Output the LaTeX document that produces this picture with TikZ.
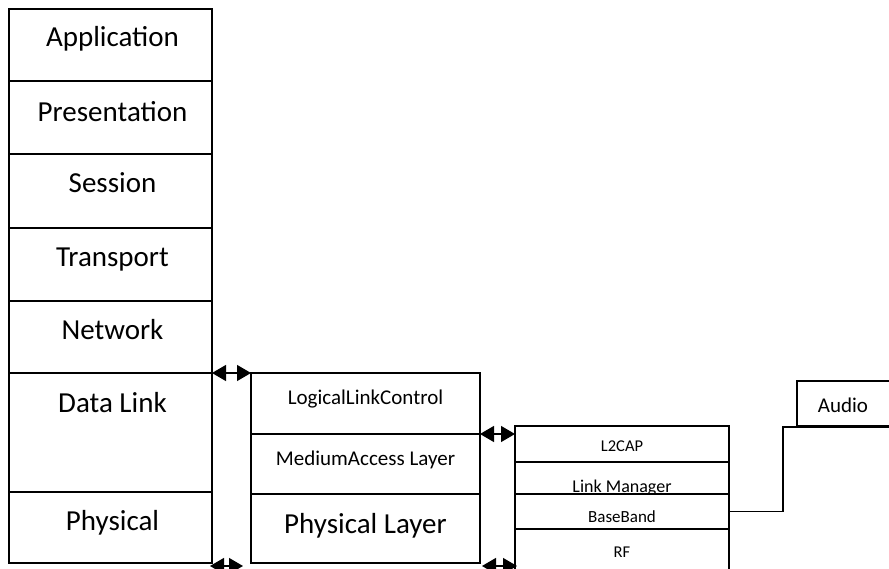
\documentclass[tikz,border=0pt]{standalone}
\usepackage{fontspec}
\setmainfont{Carlito}
\usetikzlibrary{arrows.meta,calc}
\begin{document}
\begin{tikzpicture}[x=1pt,y=-1pt,
  cell/.style={draw, line width=1.3pt, fill=white, anchor=north west, inner sep=0pt, outer sep=0pt},
  bigtxt/.style={font=\fontsize{29}{32}\selectfont, anchor=base, inner sep=0pt},
  medtxt/.style={font=\fontsize{21}{24}\selectfont, anchor=base, inner sep=0pt},
  smalltxt/.style={font=\fontsize{16.5}{19}\selectfont, anchor=base, inner sep=0pt},
  link/.style={line width=1.3pt, {Triangle[length=14pt,width=16pt]}-{Triangle[length=14pt,width=16pt]}},
  wire/.style={line width=1.3pt}]
\useasboundingbox (0,0) rectangle (889,569);
% OSI stack
\node[cell, minimum width=203pt, minimum height=72pt] (app) at (9,9) {};
\node[cell, minimum width=203pt, minimum height=73pt] (pres) at (9,81) {};
\node[cell, minimum width=203pt, minimum height=74pt] (sess) at (9,154) {};
\node[cell, minimum width=203pt, minimum height=73pt] (trans) at (9,228) {};
\node[cell, minimum width=203pt, minimum height=72pt] (net) at (9,301) {};
\node[cell, minimum width=203pt, minimum height=119pt] (dl) at (9,373) {};
\node[cell, minimum width=203pt, minimum height=71pt] (phy) at (9,492) {};
\node[bigtxt] (tapp) at ($(app.north)+(2,38)$) {Application};
\node[bigtxt] (tpres) at ($(pres.north)+(2,41)$) {Presentation};
\node[bigtxt] (tsess) at ($(sess.north)+(2,39)$) {Session};
\node[bigtxt] (ttrans) at ($(trans.north)+(2,39)$) {Transport};
\node[bigtxt] (tnet) at ($(net.north)+(2,39)$) {Network};
\node[bigtxt] (tdl) at ($(dl.north)+(2,39)$) {Data Link};
\node[bigtxt] (tphy) at ($(phy.north)+(2,38)$) {Physical};
% IEEE stack
\node[cell, minimum width=229pt, minimum height=61pt] (llc) at (251,373) {};
\node[cell, minimum width=229pt, minimum height=60pt] (mac) at (251,434) {};
\node[cell, minimum width=229pt, minimum height=69pt] (pl) at (251,494) {};
\node[medtxt] (tllc) at ($(llc.north)+(0,31)$) {LogicalLinkControl};
\node[medtxt] (tmac) at ($(mac.north)+(0,31)$) {MediumAccess Layer};
\node[bigtxt] (tpl) at ($(pl.north)+(0,39)$) {Physical Layer};
% Bluetooth stack
\node[cell, minimum width=214pt, minimum height=36pt] (l2) at (515,426) {};
\node[smalltxt] (tl2) at ($(l2.north)+(0,25)$) {L2CAP};
\node[cell, minimum width=214pt, minimum height=32pt] (lm) at (515,462) {};
\node[smalltxt, font=\fontsize{18}{20}\selectfont] (tlm) at ($(lm.north)+(0,30)$) {Link Manager};
\node[cell, minimum width=214pt, minimum height=35pt] (bb) at (515,494) {};
\node[smalltxt, font=\fontsize{17}{19}\selectfont] (tbb) at ($(bb.north)+(0,28)$) {BaseBand};
\node[cell, minimum width=214pt, minimum height=50pt] (rf) at (515,529) {};
\node[smalltxt] (trf) at ($(rf.north)+(0,28)$) {RF};
\draw[line width=2.6pt] (l2.south west) -- (l2.south east);
% Audio
\node[cell, minimum width=110pt, minimum height=45pt] (audio) at (797,381) {};
\node[medtxt] (taudio) at ($(audio.north west)+(46,31)$) {Audio};
% connectors
\coordinate (bend) at (783,427);
\coordinate (audend) at (895,427);
\draw[wire] (bb.east) -| (bend) -- (audend);
\draw[link] (dl.north east) -- (llc.north west);
\draw[link] ($(phy.south east)+(-2,3)$) -- ($(pl.south west)+(-8,3)$);
\draw[link] (mac.north east) -- (mac.north east -| l2.west);
\draw[link] ($(pl.south east)+(2,3)$) -- ($(pl.south east -| rf.west)+(2,3)$);
\end{tikzpicture}
\end{document}
